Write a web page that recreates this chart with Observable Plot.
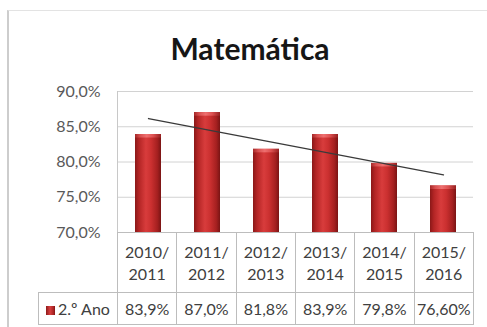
<!DOCTYPE html>
<html><head><meta charset="utf-8">
<script src="https://cdn.jsdelivr.net/npm/d3@7"></script>
<script src="https://cdn.jsdelivr.net/npm/@observablehq/plot@0.6"></script>
<style>
html,body{margin:0;padding:0;background:#fff;}
#wrap{position:relative;width:487px;height:327px;overflow:hidden;font-family:Lato,sans-serif;}
#frame{position:absolute;left:7px;top:10px;width:520px;height:340px;border-left:2px solid #cdcdcd;border-top:1px solid #e3e3e3;}
#title{position:absolute;left:0;width:500px;top:30px;text-align:center;font-weight:bold;font-size:30px;line-height:36px;color:#161616;}
#chart{position:absolute;left:0;top:80px;}
#vline{position:absolute;left:117px;top:91px;width:1px;height:141px;background:#c8c8c8;}
#tbl{position:absolute;left:38px;top:232px;border-collapse:collapse;table-layout:fixed;font-size:16px;color:#404040;}
#tbl td{border:1px solid #bdbdbd;text-align:center;padding:0;}
#tbl tr.cats td{height:59px;line-height:22px;}
#tbl tr.vals td{height:31px;}
#tbl td.blank{border-top:none;border-left:none;}
.sw{display:inline-block;width:9px;height:9px;margin-right:3px;vertical-align:0px;background:linear-gradient(90deg,#8e1a1a,#d94040 45%,#a82222 85%,#7d1515);}
</style></head>
<body>
<div id="wrap">
  <div id="frame"></div>
  <div id="title"></div>
  <div id="chart"></div>
  <div id="vline"></div>
  <table id="tbl"></table>
</div>
<script>
const chartTitle = "Matemática";
const seriesName = "2.º Ano";
const categories = ["2010/2011", "2011/2012", "2012/2013", "2013/2014", "2014/2015", "2015/2016"];
const values = [83.9, 87.0, 81.8, 83.9, 79.8, 76.6];
const valueLabels = ["83,9%", "87,0%", "81,8%", "83,9%", "79,8%", "76,60%"];
const yTicks = [70, 75, 80, 85, 90];

document.getElementById("title").textContent = chartTitle;

const data = categories.map((c, i) => ({cat: c, v: values[i]}));

// linear trend line (least squares over category index)
const mx = d3.mean(values, (_, i) => i);
const my = d3.mean(values);
const slope = d3.sum(values, (v, i) => (i - mx) * (v - my)) / d3.sum(values, (_, i) => (i - mx) ** 2);
const trend = categories.map((c, i) => ({cat: c, v: my + slope * (i - mx)}));

const chart = Plot.plot({
  width: 487,
  height: 160,
  marginLeft: 117,
  marginRight: 14,
  marginTop: 11,
  marginBottom: 8,
  x: {domain: categories, paddingInner: 0.56, paddingOuter: 0.28, axis: null},
  y: {domain: [70, 90], ticks: yTicks, tickFormat: d => d.toFixed(1).replace(".", ",") + "%", tickSize: 0, tickPadding: 17, label: null},
  style: {fontFamily: "Lato, sans-serif", fontSize: "16px", color: "#595959", overflow: "visible", background: "transparent"},
  marks: [
    Plot.gridY(yTicks.slice(1), {stroke: "#d2d2d2", strokeOpacity: 1}),
    Plot.barY(data, {x: "cat", y1: 70, y2: "v", fill: "url(#barGrad)"}),
    Plot.barY(data, {x: "cat", y1: d => d.v - 0.5, y2: "v", fill: "url(#capGrad)"}),
    Plot.line(trend, {x: "cat", y: "v", stroke: "#3a3a3a", strokeWidth: 1.3})
  ]
});

const defs = d3.select(chart).insert("defs", ":first-child");
const g1 = defs.append("linearGradient").attr("id", "barGrad").attr("x1", 0).attr("x2", 1).attr("y1", 0).attr("y2", 0);
[[0, "#8a1818"], [0.15, "#b32525"], [0.42, "#d83c3c"], [0.62, "#cb3030"], [0.86, "#a52020"], [1, "#7a1414"]]
  .forEach(([o, c]) => g1.append("stop").attr("offset", o).attr("stop-color", c));
const g2 = defs.append("linearGradient").attr("id", "capGrad").attr("x1", 0).attr("x2", 1).attr("y1", 0).attr("y2", 0);
[[0, "#a52828"], [0.2, "#d85050"], [0.45, "#ee7070"], [0.7, "#dc5050"], [1, "#952020"]]
  .forEach(([o, c]) => g2.append("stop").attr("offset", o).attr("stop-color", c));

document.getElementById("chart").appendChild(chart);

// data table
const tbl = d3.select("#tbl");
const cg = tbl.append("colgroup");
cg.append("col").style("width", "79px");
categories.forEach(() => cg.append("col").style("width", "59.33px"));
const r1 = tbl.append("tr").attr("class", "cats");
r1.append("td").attr("class", "blank");
categories.forEach(c => r1.append("td").html(c.replace("/", "/<br>")));
const r2 = tbl.append("tr").attr("class", "vals");
r2.append("td").html('<span class="sw"></span>' + seriesName);
valueLabels.forEach(v => r2.append("td").text(v));
</script>
</body></html>
